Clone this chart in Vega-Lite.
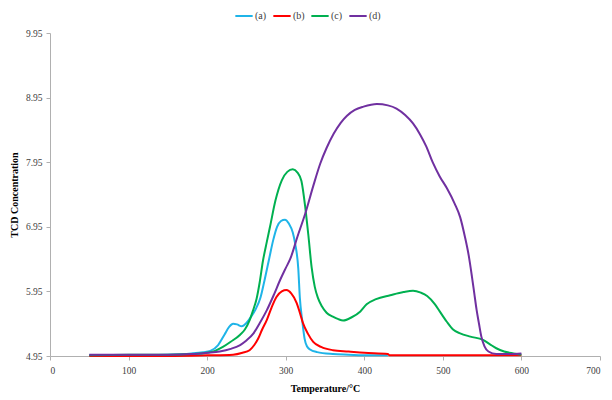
{
  "$schema": "https://vega.github.io/schema/vega-lite/v6.json",
  "width": 550,
  "height": 323,
  "autosize": {"type": "none"},
  "padding": {"left": 50, "top": 33, "right": 12, "bottom": 44},
  "background": "white",
  "config": {
    "view": {"stroke": null},
    "font": "Liberation Serif",
    "axis": {
      "grid": false,
      "domainColor": "#b0b0b0",
      "tickColor": "#b0b0b0",
      "labelColor": "#404040",
      "labelFont": "Liberation Serif",
      "labelFontSize": 9.5,
      "titleFont": "Liberation Serif",
      "titleFontSize": 10,
      "titleFontWeight": "bold",
      "titleColor": "#000000",
      "tickSize": 4
    }
  },
  "data": {
    "values": [
      {"s": "(a)", "T": 50, "v": 4.96}, {"s": "(a)", "T": 100, "v": 4.96}, {"s": "(a)", "T": 150, "v": 4.97}, {"s": "(a)", "T": 180, "v": 4.99},
      {"s": "(a)", "T": 195, "v": 5.01}, {"s": "(a)", "T": 204, "v": 5.03}, {"s": "(a)", "T": 214, "v": 5.12}, {"s": "(a)", "T": 222, "v": 5.28},
      {"s": "(a)", "T": 228, "v": 5.40}, {"s": "(a)", "T": 233, "v": 5.45}, {"s": "(a)", "T": 238, "v": 5.44}, {"s": "(a)", "T": 244, "v": 5.41},
      {"s": "(a)", "T": 250, "v": 5.46}, {"s": "(a)", "T": 256, "v": 5.56}, {"s": "(a)", "T": 262, "v": 5.68}, {"s": "(a)", "T": 268, "v": 5.86},
      {"s": "(a)", "T": 273, "v": 6.12}, {"s": "(a)", "T": 279, "v": 6.46}, {"s": "(a)", "T": 284, "v": 6.74}, {"s": "(a)", "T": 289, "v": 6.95},
      {"s": "(a)", "T": 294, "v": 7.04}, {"s": "(a)", "T": 299, "v": 7.06}, {"s": "(a)", "T": 304, "v": 7.00}, {"s": "(a)", "T": 309, "v": 6.86},
      {"s": "(a)", "T": 312, "v": 6.69}, {"s": "(a)", "T": 316, "v": 6.30}, {"s": "(a)", "T": 318, "v": 5.85}, {"s": "(a)", "T": 321, "v": 5.50},
      {"s": "(a)", "T": 324, "v": 5.22}, {"s": "(a)", "T": 327, "v": 5.10}, {"s": "(a)", "T": 331, "v": 5.05}, {"s": "(a)", "T": 340, "v": 5.01},
      {"s": "(a)", "T": 360, "v": 4.98}, {"s": "(a)", "T": 380, "v": 4.97}, {"s": "(a)", "T": 405, "v": 4.96}, {"s": "(a)", "T": 430, "v": 4.96},

      {"s": "(b)", "T": 50, "v": 4.95}, {"s": "(b)", "T": 150, "v": 4.95}, {"s": "(b)", "T": 200, "v": 4.96}, {"s": "(b)", "T": 233, "v": 4.97},
      {"s": "(b)", "T": 245, "v": 5.00}, {"s": "(b)", "T": 254, "v": 5.04}, {"s": "(b)", "T": 260, "v": 5.12}, {"s": "(b)", "T": 265, "v": 5.22},
      {"s": "(b)", "T": 270, "v": 5.36}, {"s": "(b)", "T": 276, "v": 5.51}, {"s": "(b)", "T": 282, "v": 5.70}, {"s": "(b)", "T": 288, "v": 5.86},
      {"s": "(b)", "T": 295, "v": 5.95}, {"s": "(b)", "T": 301, "v": 5.97}, {"s": "(b)", "T": 307, "v": 5.92}, {"s": "(b)", "T": 314, "v": 5.77},
      {"s": "(b)", "T": 318, "v": 5.62}, {"s": "(b)", "T": 322, "v": 5.46}, {"s": "(b)", "T": 328, "v": 5.30}, {"s": "(b)", "T": 335, "v": 5.17},
      {"s": "(b)", "T": 345, "v": 5.09}, {"s": "(b)", "T": 360, "v": 5.04}, {"s": "(b)", "T": 380, "v": 5.02}, {"s": "(b)", "T": 400, "v": 5.00},
      {"s": "(b)", "T": 430, "v": 4.98}, {"s": "(b)", "T": 432, "v": 4.96}, {"s": "(b)", "T": 500, "v": 4.96}, {"s": "(b)", "T": 600, "v": 4.96},

      {"s": "(c)", "T": 50, "v": 4.96}, {"s": "(c)", "T": 100, "v": 4.97}, {"s": "(c)", "T": 150, "v": 4.97}, {"s": "(c)", "T": 180, "v": 4.98},
      {"s": "(c)", "T": 200, "v": 5.00}, {"s": "(c)", "T": 210, "v": 5.03}, {"s": "(c)", "T": 220, "v": 5.09}, {"s": "(c)", "T": 230, "v": 5.17},
      {"s": "(c)", "T": 242, "v": 5.28}, {"s": "(c)", "T": 248, "v": 5.36}, {"s": "(c)", "T": 254, "v": 5.50}, {"s": "(c)", "T": 258, "v": 5.64},
      {"s": "(c)", "T": 263, "v": 5.84}, {"s": "(c)", "T": 267, "v": 6.10}, {"s": "(c)", "T": 271, "v": 6.42}, {"s": "(c)", "T": 276, "v": 6.72},
      {"s": "(c)", "T": 280, "v": 6.95}, {"s": "(c)", "T": 287, "v": 7.36}, {"s": "(c)", "T": 295, "v": 7.67}, {"s": "(c)", "T": 302, "v": 7.80},
      {"s": "(c)", "T": 309, "v": 7.84}, {"s": "(c)", "T": 315, "v": 7.79}, {"s": "(c)", "T": 320, "v": 7.66}, {"s": "(c)", "T": 325, "v": 7.24},
      {"s": "(c)", "T": 329, "v": 6.80}, {"s": "(c)", "T": 333, "v": 6.32}, {"s": "(c)", "T": 337, "v": 6.02}, {"s": "(c)", "T": 341, "v": 5.85},
      {"s": "(c)", "T": 346, "v": 5.72}, {"s": "(c)", "T": 352, "v": 5.62}, {"s": "(c)", "T": 360, "v": 5.56}, {"s": "(c)", "T": 367, "v": 5.52},
      {"s": "(c)", "T": 373, "v": 5.50}, {"s": "(c)", "T": 384, "v": 5.55}, {"s": "(c)", "T": 395, "v": 5.64}, {"s": "(c)", "T": 403, "v": 5.75},
      {"s": "(c)", "T": 415, "v": 5.83}, {"s": "(c)", "T": 433, "v": 5.89}, {"s": "(c)", "T": 450, "v": 5.94}, {"s": "(c)", "T": 462, "v": 5.96},
      {"s": "(c)", "T": 472, "v": 5.93}, {"s": "(c)", "T": 480, "v": 5.88}, {"s": "(c)", "T": 490, "v": 5.75}, {"s": "(c)", "T": 496, "v": 5.64},
      {"s": "(c)", "T": 505, "v": 5.48}, {"s": "(c)", "T": 513, "v": 5.36}, {"s": "(c)", "T": 522, "v": 5.30}, {"s": "(c)", "T": 535, "v": 5.25},
      {"s": "(c)", "T": 551, "v": 5.20}, {"s": "(c)", "T": 560, "v": 5.13}, {"s": "(c)", "T": 568, "v": 5.07}, {"s": "(c)", "T": 578, "v": 5.02},
      {"s": "(c)", "T": 590, "v": 4.99}, {"s": "(c)", "T": 600, "v": 4.97},

      {"s": "(d)", "T": 50, "v": 4.97}, {"s": "(d)", "T": 100, "v": 4.97}, {"s": "(d)", "T": 150, "v": 4.97}, {"s": "(d)", "T": 180, "v": 4.98},
      {"s": "(d)", "T": 200, "v": 5.00}, {"s": "(d)", "T": 216, "v": 5.02}, {"s": "(d)", "T": 230, "v": 5.06}, {"s": "(d)", "T": 242, "v": 5.12},
      {"s": "(d)", "T": 250, "v": 5.19}, {"s": "(d)", "T": 259, "v": 5.30}, {"s": "(d)", "T": 267, "v": 5.46}, {"s": "(d)", "T": 276, "v": 5.66},
      {"s": "(d)", "T": 285, "v": 5.90}, {"s": "(d)", "T": 293, "v": 6.13}, {"s": "(d)", "T": 300, "v": 6.31}, {"s": "(d)", "T": 306, "v": 6.46},
      {"s": "(d)", "T": 315, "v": 6.80}, {"s": "(d)", "T": 325, "v": 7.16}, {"s": "(d)", "T": 335, "v": 7.58}, {"s": "(d)", "T": 344, "v": 7.93},
      {"s": "(d)", "T": 352, "v": 8.17}, {"s": "(d)", "T": 361, "v": 8.39}, {"s": "(d)", "T": 370, "v": 8.56}, {"s": "(d)", "T": 378, "v": 8.67},
      {"s": "(d)", "T": 388, "v": 8.76}, {"s": "(d)", "T": 399, "v": 8.81}, {"s": "(d)", "T": 416, "v": 8.85}, {"s": "(d)", "T": 430, "v": 8.83},
      {"s": "(d)", "T": 441, "v": 8.78}, {"s": "(d)", "T": 452, "v": 8.68}, {"s": "(d)", "T": 462, "v": 8.55}, {"s": "(d)", "T": 471, "v": 8.38},
      {"s": "(d)", "T": 479, "v": 8.19}, {"s": "(d)", "T": 487, "v": 7.95}, {"s": "(d)", "T": 496, "v": 7.73}, {"s": "(d)", "T": 505, "v": 7.55},
      {"s": "(d)", "T": 515, "v": 7.31}, {"s": "(d)", "T": 522, "v": 7.10}, {"s": "(d)", "T": 528, "v": 6.80}, {"s": "(d)", "T": 533, "v": 6.50},
      {"s": "(d)", "T": 537, "v": 6.18}, {"s": "(d)", "T": 540, "v": 5.92}, {"s": "(d)", "T": 543, "v": 5.66}, {"s": "(d)", "T": 546, "v": 5.45},
      {"s": "(d)", "T": 549, "v": 5.25}, {"s": "(d)", "T": 553, "v": 5.10}, {"s": "(d)", "T": 558, "v": 5.02}, {"s": "(d)", "T": 568, "v": 4.98},
      {"s": "(d)", "T": 585, "v": 4.98}, {"s": "(d)", "T": 600, "v": 4.99}
    ]
  },
  "mark": {"type": "line", "strokeWidth": 2, "interpolate": "monotone"},
  "encoding": {
    "x": {
      "field": "T", "type": "quantitative",
      "scale": {"domain": [0, 700], "nice": false, "zero": false},
      "axis": {"values": [0, 100, 200, 300, 400, 500, 600, 700], "title": "Temperature/°C", "labelPadding": 5, "titlePadding": 9}
    },
    "y": {
      "field": "v", "type": "quantitative",
      "scale": {"domain": [4.95, 9.95], "nice": false, "zero": false},
      "axis": {"values": [4.95, 5.95, 6.95, 7.95, 8.95, 9.95], "format": ".2f", "title": "TCD Concentration", "labelPadding": 4, "titlePadding": 6}
    },
    "color": {
      "field": "s", "type": "nominal",
      "scale": {"domain": ["(a)", "(b)", "(c)", "(d)"], "range": ["#1FB4E8", "#FF0000", "#00B050", "#7030A0"]},
      "legend": {
        "title": null, "orient": "none", "direction": "horizontal",
        "legendX": 184, "legendY": -27,
        "symbolType": "stroke", "symbolSize": 300, "symbolStrokeWidth": 2,
        "labelFont": "Liberation Serif", "labelFontSize": 10, "labelColor": "#404040",
        "labelOffset": 1, "columnPadding": 2, "padding": 0
      }
    }
  }
}
